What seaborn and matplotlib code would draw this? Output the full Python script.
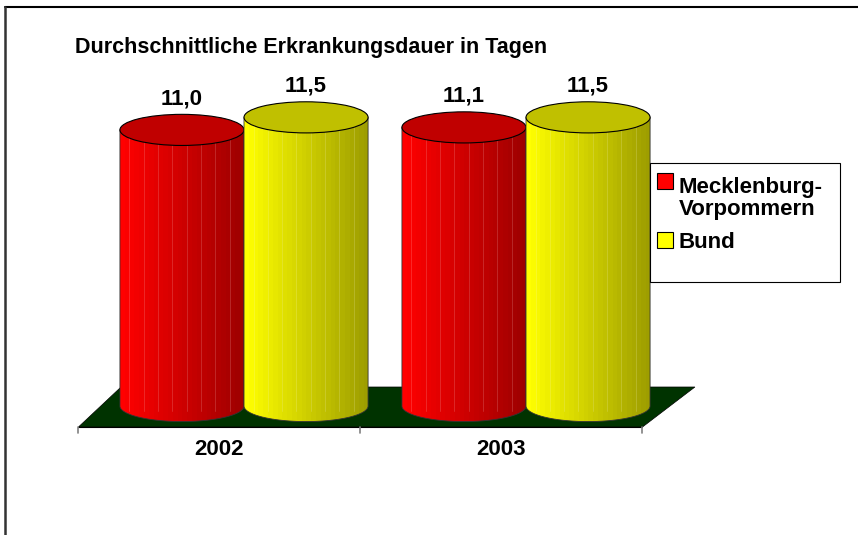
import numpy as np
import pandas as pd
import matplotlib.pyplot as plt
import matplotlib.patches as mpatches
import matplotlib.colors as mcolors
from matplotlib.lines import Line2D
import seaborn as sns

# Data
years = ['2002', '2003']
regions = ['Mecklenburg-\nVorpommern', 'Bund']
mv_days = [11.0, 11.1]
bund_days = [11.5, 11.5]
title = 'Durchschnittliche Erkrankungsdauer in Tagen'

df = pd.DataFrame({
    'Jahr': years * 2,
    'Region': [regions[0]] * len(years) + [regions[1]] * len(years),
    'Tage': mv_days + bund_days,
})

colors = ['#FF0000', '#FFFF00']
top_colors = ['#C00000', '#C0C000']

sns.set_style('white')
plt.rcParams['font.family'] = ['Liberation Sans', 'DejaVu Sans']
plt.rcParams['text.color'] = 'black'

W, H = 858, 535
fig = plt.figure(figsize=(W / 100, H / 100), dpi=100)
ax = fig.add_axes([103 / W, (H - 431.1) / H, 564 / W, 351.4 / H])

sns.barplot(data=df, x='Jahr', y='Tage', hue='Region', palette=colors,
            width=0.88, saturation=1, legend=False, ax=ax)

ax.set_xlim(-0.5, 1.5)
ax.set_ylim(-1, 13)
ax.axis('off')

# floor (fake 3D base)
shift = -0.087
floor = mpatches.Polygon([(-0.5 + shift, -0.837), (1.5 + shift, -0.837),
                          (1.5 + 0.099, 0.757), (-0.5 + 0.064, 0.757)],
                         closed=True, facecolor='#003300', edgecolor='black',
                         lw=0.5, zorder=1, clip_on=False)
ax.add_patch(floor)

# axis line, ticks and category labels on the front edge
ax.plot([-0.5 + shift, 1.5 + shift], [-0.837, -0.837], color='black', lw=0.8,
        clip_on=False, zorder=2)
for xt in np.arange(len(years) + 1) - 0.5 + shift:
    ax.plot([xt, xt], [-0.837, -1.08], color='gray', lw=1.2, clip_on=False, zorder=2)
for i, yr in enumerate(years):
    ax.text(i + shift, -1.75, yr, ha='center', va='center', fontsize=16,
            fontweight='bold')

# turn bars into cylinders
ry = 0.62
for k, cont in enumerate(ax.containers):
    rgb = np.array(mcolors.to_rgb(colors[k]))
    for bar in cont.patches:
        x, w, h = bar.get_x(), bar.get_width(), bar.get_height()
        cx = x + w / 2
        bar.set_visible(False)
        t = np.linspace(0, -np.pi, 80)
        pts = [(x, h), (x + w, h)] + list(zip(cx + w / 2 * np.cos(t), ry * np.sin(t)))
        body = mpatches.Polygon(pts, closed=True, facecolor='none',
                                edgecolor='#333333', lw=0.6, zorder=3.1 + k)
        shade = np.linspace(1.0, 0.62, 26)
        img = rgb[None, None, :] * shade[None, :, None]
        im = ax.imshow(img, extent=[x, x + w, -ry, h], aspect='auto',
                       interpolation='nearest', origin='lower', zorder=3 + k)
        ax.add_patch(body)
        im.set_clip_path(body)
        # faint facet lines
        for fx in np.linspace(x, x + w, 27)[2:-1:3]:
            ax.plot([fx, fx], [-ry * 0.3, h], color='white', alpha=0.18, lw=0.6,
                    zorder=3.05 + k, clip_path=body)
        top = mpatches.Ellipse((cx, h), w, 2 * ry, facecolor=top_colors[k],
                               edgecolor='black', lw=0.8, zorder=3.2 + k)
        ax.add_patch(top)

ax.set_xlim(-0.5, 1.5)
ax.set_ylim(-1, 13)

# value labels
for cont, vals in zip(ax.containers, [mv_days, bund_days]):
    ax.bar_label(cont, labels=[f'{v:.1f}'.replace('.', ',') for v in vals],
                 padding=15, fontsize=16, fontweight='bold', zorder=6)

# title
fig.text(75 / W, 1 - 53 / H, title, ha='left', va='baseline', fontsize=15.5,
         fontweight='bold')

# legend (drawn by hand to keep the square on the first line)
fig.add_artist(mpatches.Rectangle((650 / W, 1 - 282 / H), 190 / W, 119 / H,
                                  transform=fig.transFigure, fill=False,
                                  edgecolor='black', lw=0.8))
sq_tops = [173, 232]
last_baselines = [215, 248]
for c, lab, yt, yb in zip(colors, regions, sq_tops, last_baselines):
    fig.add_artist(mpatches.Rectangle((657 / W, 1 - (yt + 16) / H), 16 / W, 16 / H,
                                      transform=fig.transFigure, facecolor=c,
                                      edgecolor='black', lw=0.8))
    fig.text(679 / W, 1 - yb / H, lab, ha='left', va='baseline',
             fontsize=16, fontweight='bold', linespacing=1.05)

# frame of the chart area
fig.add_artist(Line2D([5 / W, 1], [1 - 7 / H] * 2, transform=fig.transFigure,
                      color='black', lw=1.5))
fig.add_artist(Line2D([5 / W] * 2, [0, 1 - 7 / H], transform=fig.transFigure,
                      color='#333333', lw=1.8))

fig.savefig('out.png', dpi=100)
